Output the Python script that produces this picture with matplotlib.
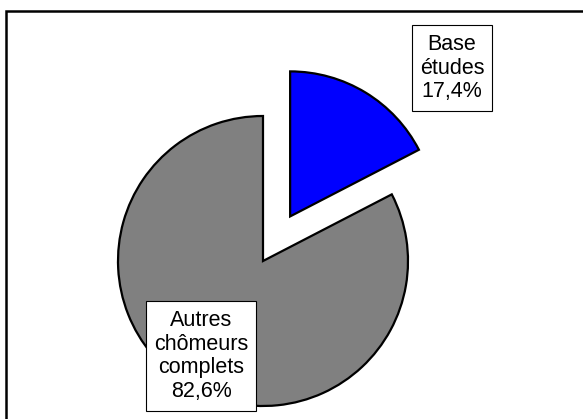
import matplotlib

matplotlib.use("Agg")
import matplotlib.pyplot as plt
from matplotlib.patches import Rectangle

plt.rcParams["font.family"] = ["Liberation Sans", "DejaVu Sans"]

# part des chômeurs complets indemnisés
LABELS = ["Base études", "Autres chômeurs complets"]
SHARES = [17.4, 82.6]
LABEL_TEXTS = ["Base\nétudes\n17,4%", "Autres\nchômeurs\ncomplets\n82,6%"]
COLORS = ["#0000FF", "#808080"]
EXPLODE = [0.36, 0.0]

W, H = 583, 419
RADIUS = 145
figure = plt.figure(figsize=(W / 100, H / 100), dpi=100)
axis = figure.add_axes([0, 0, 1, 1])

# pie() décale d'explode en unités de données, pas en fraction du rayon
axis.pie(
    SHARES,
    explode=[value * RADIUS for value in EXPLODE],
    colors=COLORS,
    startangle=90,
    counterclock=False,
    center=(263, H - 261),
    radius=RADIUS,
    wedgeprops={"edgecolor": "black", "linewidth": 1.6},
    frame=True,
)
axis.set_xlim(0, W)
axis.set_ylim(0, H)
axis.set_aspect("equal")
axis.axis("off")

box = {"boxstyle": "square,pad=0.38", "facecolor": "white", "edgecolor": "black", "linewidth": 0.8}
axis.text(452, H - 68, LABEL_TEXTS[0], ha="center", va="center", fontsize=15.5,
          linespacing=1.18, bbox=box)
axis.text(201, H - 356, LABEL_TEXTS[1], ha="center", va="center", fontsize=15.5,
          linespacing=1.18, bbox=box)

# cadre extérieur (bords droit et bas hors image)
figure.patches.append(
    Rectangle((6 / W, -0.2), 1.2, 1.2 - 11 / H,
              transform=figure.transFigure, fill=False, edgecolor="black",
              linewidth=1.8, clip_on=False)
)

figure.savefig("out.png", dpi=100)
